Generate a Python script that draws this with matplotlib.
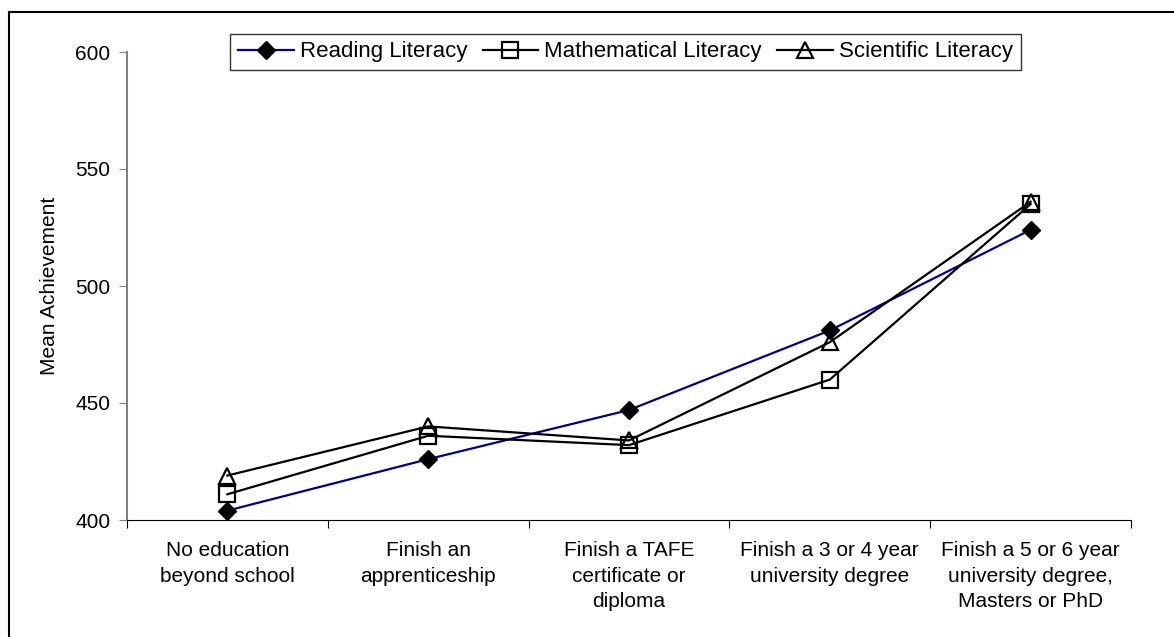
import numpy as np
import matplotlib.pyplot as plt
from matplotlib.lines import Line2D

plt.rcParams['font.family'] = ['Liberation Sans', 'DejaVu Sans']

categories = ['No education\nbeyond school', 'Finish an\napprenticeship',
              'Finish a TAFE\ncertificate or\ndiploma', 'Finish a 3 or 4 year\nuniversity degree',
              'Finish a 5 or 6 year\nuniversity degree,\nMasters or PhD']
reading = [404, 426, 447, 481, 524]
maths = [411, 436, 432, 460, 535]
science = [419, 440, 434, 476, 536]

fig = plt.figure(figsize=(11.74, 6.37), dpi=100)
ax = fig.add_axes([127/1174, 1-520/637, 1004/1174, 468/637])

x = np.arange(len(categories))
ax.plot(x, reading, color='#000080', lw=1.6, marker='D', ms=9,
        mfc='black', mec='black', label='Reading Literacy', zorder=3)
ax.plot(x, maths, color='black', lw=1.6, marker='s', ms=11.5,
        mfc='none', mec='black', mew=1.6, label='Mathematical Literacy', zorder=3)
ax.plot(x, science, color='black', lw=1.6, marker='^', ms=12,
        mfc='none', mec='black', mew=1.6, label='Scientific Literacy', zorder=3)

ax.set_xlim(-0.5, len(categories)-0.5)
ax.set_ylim(400, 600)
ax.set_yticks([400, 450, 500, 550, 600])
ax.tick_params(axis='y', labelsize=15, length=6, color='#808080', pad=6)
ax.set_xticks(np.arange(-0.5, len(categories), 1.0))
ax.set_xticklabels([])
ax.set_xticks(x, minor=True)
ax.set_xticklabels(categories, minor=True, fontsize=15, linespacing=1.45)
ax.tick_params(axis='x', which='major', length=6, color='black')
ax.tick_params(axis='x', which='minor', length=0, pad=15)

ax.spines['top'].set_visible(False)
ax.spines['right'].set_visible(False)
ax.spines['left'].set_color('#808080')
ax.spines['left'].set_linewidth(1.5)
ax.spines['bottom'].set_color('black')

ax.set_ylabel('Mean Achievement', fontsize=15, labelpad=12)

leg = ax.legend(loc='center', bbox_to_anchor=(0.4965, 1.0), ncol=3, fontsize=16,
                frameon=True, fancybox=False, handlelength=2.5, handletextpad=0.27,
                columnspacing=0.7, borderpad=0.35, borderaxespad=0)
leg.get_frame().set_edgecolor('black')
leg.get_frame().set_linewidth(1.0)

# outer chart border (cut off on right and bottom)
fig.add_artist(Line2D([9/1174, 9/1174], [0, 1-12/637], color='black', lw=1.5,
                      transform=fig.transFigure))
fig.add_artist(Line2D([9/1174, 1], [1-12/637, 1-12/637], color='black', lw=1.5,
                      transform=fig.transFigure))

fig.savefig('out.png', dpi=100)
